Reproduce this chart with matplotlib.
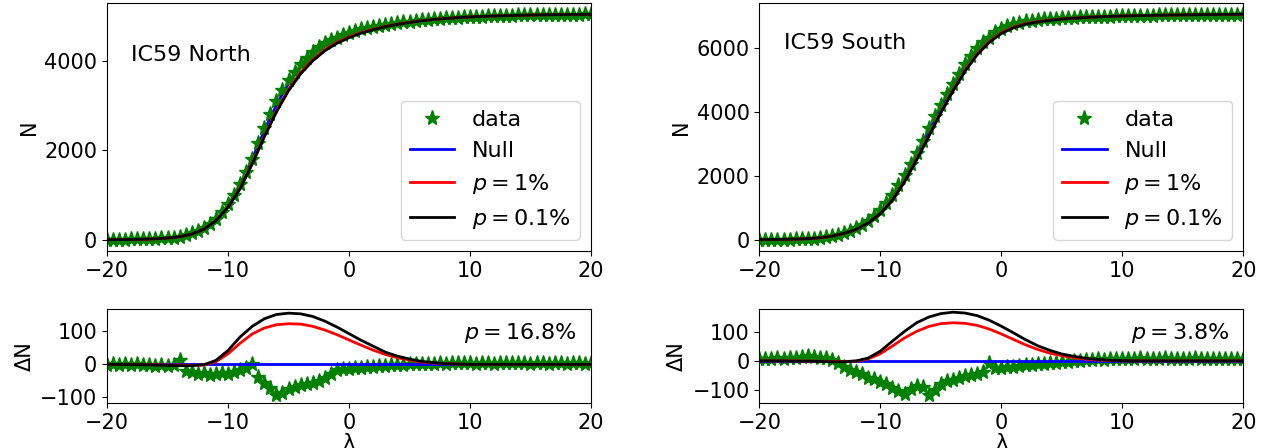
import numpy as np
import matplotlib
matplotlib.use('Agg')
import matplotlib.pyplot as plt

plt.rcParams['font.size'] = 15

# lambda grids
lam_data = np.arange(-20, 20.5, 0.5)
lam_fit = np.arange(-20, 21, 1)

# IC59 North
north_null = [3, 4, 5, 6, 8, 10, 13, 17, 22, 29,
              38, 50, 68, 92, 125, 172, 235, 325, 440, 590,
              770, 985, 1225, 1510, 1810, 2125, 2440, 2735, 3010, 3265,
              3490, 3690, 3865, 4015, 4150, 4262, 4360, 4440, 4510, 4565,
              4615, 4658, 4695, 4727, 4755, 4781, 4805, 4826, 4845, 4863,
              4880, 4896, 4910, 4923, 4935, 4945, 4955, 4964, 4972, 4979,
              4986, 4992, 4998, 5003, 5008, 5012, 5016, 5020, 5023, 5026,
              5029, 5032, 5034, 5036, 5038, 5040, 5041, 5043, 5044, 5045,
              5046]
north_resid = [-2, 1, -3, 0, -2, 1, -3, -1, -4, -2,
               -5, -3, 14, -20, -24, -28, -26, -33, -30, -27,
               -30, -22, -18, -12, 2, -38, -55, -72, -94, -86,
               -76, -70, -62, -58, -55, -50, -42, -30, -16, -14,
               -13, -11, -12, -9, -8, -6, -5, -3, -2, -1,
               0, 1, 0, 2, 1, 3, 2, 3, 5, 4,
               3, 2, 4, 3, 2, 4, 3, 5, 3, 4,
               2, 4, 3, 2, 4, 3, 2, 3, 4, 2,
               3]
north_p1 = [0, 0, 0, -1, -1, -2, -2, -3, -2, 8, 32, 64, 92, 110, 120, 123, 122, 115, 104, 90,
            74, 58, 43, 30, 20, 13, 7, 4, 2, 1, 0, 0, 0, 0, 0, 0, 0, 0, 0, 0, 0]
north_p01 = [0, 0, -1, -1, -2, -3, -4, -4, -1, 12, 42, 83, 115, 138, 151, 155, 153, 145, 131, 113,
             93, 73, 55, 37, 25, 16, 9, 5, 2, 1, 0, 0, 0, 0, 0, 0, 0, 0, 0, 0, 0]

# IC59 South
south_null = [2, 3, 4, 6, 8, 11, 14, 20, 28, 40,
              55, 78, 105, 140, 190, 245, 320, 415, 530, 675,
              850, 1065, 1305, 1595, 1915, 2265, 2630, 3010, 3390, 3770,
              4140, 4495, 4830, 5150, 5450, 5720, 5960, 6160, 6330, 6475,
              6590, 6680, 6745, 6795, 6835, 6862, 6885, 6903, 6920, 6933,
              6945, 6955, 6965, 6974, 6982, 6989, 6996, 7002, 7008, 7014,
              7019, 7024, 7028, 7032, 7036, 7040, 7043, 7046, 7049, 7052,
              7054, 7057, 7059, 7061, 7063, 7065, 7067, 7069, 7070, 7072,
              7073]
south_resid = [5, 8, 6, 9, 7, 10, 9, 12, 16, 13,
               10, 11, 4, -8, -20, -33, -38, -45, -58, -64,
               -72, -82, -94, -104, -116, -98, -88, -90, -118, -102,
               -80, -70, -66, -58, -52, -48, -44, -38, -6, -26,
               -24, -22, -20, -18, -16, -13, -11, -10, -8, -6,
               -5, -3, -1, 0, 2, 3, 5, 4, 7, 8,
               6, 8, 7, 9, 6, 8, 7, 9, 8, 6,
               8, 7, 9, 6, 8, 7, 8, 6, 7, 8,
               7]
south_p1 = [0, 0, 0, 0, -1, -1, -2, -2, -1, 7, 25, 52, 80, 103, 120, 130, 133, 131, 124, 111,
            94, 75, 56, 40, 27, 18, 11, 6, 3, 1, 0, 0, 0, 0, 0, 0, 0, 0, 0, 0, 0]
south_p01 = [0, 0, 0, -1, -1, -2, -3, -3, 0, 10, 34, 69, 103, 133, 153, 165, 170, 167, 158, 142,
             121, 98, 74, 53, 37, 24, 16, 9, 5, 2, 1, 0, 0, 0, 0, 0, 0, 0, 0, 0, 0]


def draw_panel(ax_top, ax_bot, null, resid, p1, p01, name, pval, name_y, yticks_top, ylim_bot):
    null = np.array(null)
    resid = np.array(resid)
    p1 = np.array(p1)
    p01 = np.array(p01)
    null_fit = null[::2]

    # null under the stars, fits over them
    h_data, = ax_top.plot(lam_data, null - resid, '*', color='green', ms=11, zorder=2)
    h_null, = ax_top.plot(lam_data, null, color='blue', lw=2, zorder=1.5)
    h_p1, = ax_top.plot(lam_fit, null_fit - p1, color='red', lw=2, zorder=2.5)
    h_p01, = ax_top.plot(lam_fit, null_fit - p01, color='black', lw=2, zorder=2.6)
    ax_top.set_xlim(-20, 20)
    ax_top.set_yticks(yticks_top)
    ax_top.set_ylabel('N')
    ax_top.legend([h_data, h_null, h_p1, h_p01],
                  ['data', 'Null', '$p = 1\\%$', '$p = 0.1\\%$'],
                  loc='lower right', fontsize=16)
    ax_top.text(0.05, name_y, name, transform=ax_top.transAxes, va='center', fontsize=16)

    ax_bot.plot(lam_data, resid, '*', color='green', ms=11)
    ax_bot.plot(lam_data, null - null, color='blue', lw=2)
    ax_bot.plot(lam_fit, p1, color='red', lw=2)
    ax_bot.plot(lam_fit, p01, color='black', lw=2)
    ax_bot.set_xlim(-20, 20)
    ax_bot.set_ylim(ylim_bot)
    ax_bot.set_ylabel('ΔN')
    ax_bot.set_xlabel('λ', labelpad=0)
    ax_bot.text(0.97, 0.74, '$p = %s\\%%$' % pval, transform=ax_bot.transAxes,
                ha='right', va='center', fontsize=16)
    for ax in (ax_top, ax_bot):
        ax.set_xticks([-20, -10, 0, 10, 20])


fig = plt.figure(figsize=(12.62, 4.48), dpi=100)
ax1 = fig.add_axes([0.0848, 0.4397, 0.3835, 0.5536])
ax2 = fig.add_axes([0.0848, 0.1004, 0.3835, 0.2109])
ax3 = fig.add_axes([0.6017, 0.4397, 0.3835, 0.5536])
ax4 = fig.add_axes([0.6017, 0.1004, 0.3835, 0.2098])

draw_panel(ax1, ax2, north_null, north_resid, north_p1, north_p01,
           'IC59 North', '16.8', 0.79, [0, 2000, 4000], (-117, 169))
draw_panel(ax3, ax4, south_null, south_resid, south_p1, south_p01,
           'IC59 South', '3.8', 0.84, [0, 2000, 4000, 6000], (-147, 181))

fig.savefig('out.png', dpi=100)
